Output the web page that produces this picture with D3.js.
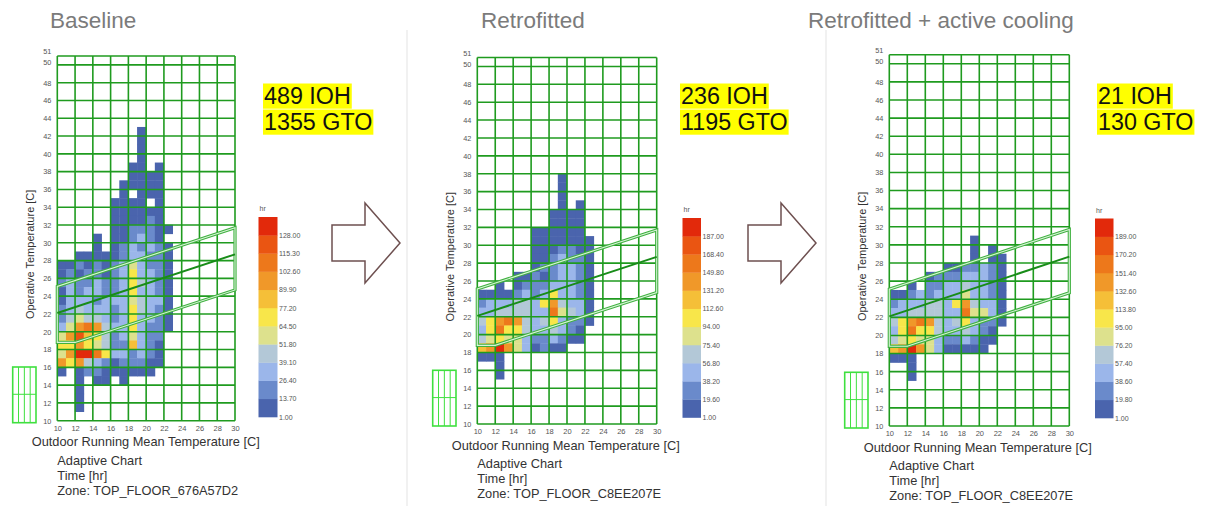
<!DOCTYPE html>
<html><head><meta charset="utf-8">
<script src="https://cdn.jsdelivr.net/npm/d3@7"></script>
<style>
body{margin:0;background:#fff;}
svg{display:block;font-family:"Liberation Sans",Arial,Helvetica,sans-serif;}
</style>
</head><body>
<svg id="chart" width="1205" height="506"></svg>
<script>
// ---------------- DATA ----------------
const titles = ["Baseline", "Retrofitted", "Retrofitted + active cooling"];
const zoneNames = ["Zone: TOP_FLOOR_676A57D2", "Zone: TOP_FLOOR_C8EE207E", "Zone: TOP_FLOOR_C8EE207E"];
const iohValues = [489, 236, 21];
const gtoValues = [1355, 1195, 130];
const xTicks = [10, 12, 14, 16, 18, 20, 22, 24, 26, 28, 30];
const yTicks = [10, 12, 14, 16, 18, 20, 22, 24, 26, 28, 30, 32, 34, 36, 38, 40, 42, 44, 46, 48, 50, 51];
const xAxisTitle = "Outdoor Running Mean Temperature [C]";
const yAxisTitle = "Operative Temperature [C]";
const infoLines = ["Adaptive Chart", "Time [hr]"];

// legend break values (hr), bottom to top
const legendBaseline = [1.00, 13.70, 26.40, 39.10, 51.80, 64.50, 77.20, 89.90, 102.60, 115.30, 128.00];
const legendRetrofit = [1.00, 19.60, 38.20, 56.80, 75.40, 94.00, 112.60, 131.20, 149.80, 168.40, 187.00];
const legendCooling  = [1.00, 19.80, 38.60, 57.40, 76.20, 95.00, 113.80, 132.60, 151.40, 170.20, 189.00];
const binColors = ["#4a64ad", "#6a8acb", "#9bb6ea", "#b3c8d7", "#dde18d", "#f8e64a",
                   "#f5bf38", "#f09829", "#ed781b", "#ea5512", "#e2290b"];

// Hour bins: one string per 1°C row of operative temperature,
// one character per 1°C of outdoor running mean temperature starting at 10°C.
// '.' = no hours, 0..9/A = legend class (A = top class).
const cellStartX = 10;
const baselineTopRow = 42;
const baselineCells = [
  ".........0...", // 42
  ".........0...", // 41
  ".........0...", // 40
  ".........0...", // 39
  "........00.0.", // 38
  "........0000.", // 37
  ".......00000.", // 36
  ".......0.000.", // 35
  "......0000.0.", // 34
  "......000000.", // 33
  "......000010.", // 32
  "......0011100", // 31
  "....0.001210.", // 30
  "....0.0121210", // 29
  "..00000122110", // 28
  "0010101242110", // 27
  "0101101252210", // 26
  "1211211253210", // 25
  "0212211252210", // 24
  "0222122243220", // 23
  "1232221253210", // 22
  "1343321252210", // 21
  "2478732252110", // 20
  "479653124211.", // 19
  "557543116210.", // 18
  "47AA85221210.", // 17
  "757321011100.", // 16
  "0.011000000..", // 15
  "..0.00.0.....", // 14
  "..0..........", // 13
  "..0..........", // 12
  "..0.........."  // 11
];
const retrofitTopRow = 37;
const retrofitCells = [
  ".........0...", // 37
  ".........0...", // 36
  ".........0...", // 35
  ".........0.0.", // 34
  "........0000.", // 33
  "........0000.", // 32
  "......000000.", // 31
  "......0000000", // 30
  "......0001100", // 29
  "......0012110", // 28
  "......0112210", // 27
  "....001012210", // 26
  "..0.011122210", // 25
  "0000121252210", // 24
  "1222332573220", // 23
  "2233332284320", // 22
  "3578732352110", // 21
  "258553223210.", // 20
  "345442112100.", // 19
  "67A7420100...", // 18
  "000..........", // 17
  "..0..........", // 16
  "..0.........."  // 15
];
const coolingTopRow = 30;
const coolingCells = [
  ".........0...", // 30
  ".........0.0.", // 29
  ".........0.00", // 28
  "......0011210", // 27
  "....011122210", // 26
  "..0.112232210", // 25
  "0012122242210", // 24
  "1222332573220", // 23
  "2233332284420", // 22
  "3578732352110", // 21
  "258553223210.", // 20
  "345442112100.", // 19
  "67A74200000..", // 18
  "000..........", // 17
  "..0..........", // 16
  "..0.........."  // 15
];

// adaptive comfort limits (EN 15251 style)
const comfortLine = [[10, 22.1], [30, 28.7]];
const bandLower = [[10, 18.8], [12, 18.8], [30, 24.7]];
const bandUpper = [[30, 31.7], [10, 25.1]];

// ---------------- LAYOUT ----------------
const panels = [
  { cells: baselineCells, top: baselineTopRow, legend: legendBaseline,
    plot: { l: 57.3, r: 235.0, b: 420.7, t: 56.0 }, titleX: 50, boxX: 264,
    leg: { x: 258.5, w: 19, t: 217, b: 417 } },
  { cells: retrofitCells, top: retrofitTopRow, legend: legendRetrofit,
    plot: { l: 477.3, r: 656.7, b: 424.0, t: 57.5 }, titleX: 481, boxX: 681,
    leg: { x: 682.5, w: 18.5, t: 218, b: 417.5 } },
  { cells: coolingCells, top: coolingTopRow, legend: legendCooling,
    plot: { l: 889.3, r: 1069.3, b: 426.0, t: 54.7 }, titleX: 808, boxX: 1098,
    leg: { x: 1095, w: 18.5, t: 218.5, b: 418 } }
];
const arrowsX = [332, 748];

const svg = d3.select("#chart");
const gridColor = "#1f9b1f";

// faint panel frames
[407, 826].forEach(x => svg.append("line").attr("x1", x).attr("x2", x).attr("y1", 30).attr("y2", 506)
  .attr("stroke", "#ececec").attr("stroke-width", 1.5));

panels.forEach((p, k) => {
  const g = svg.append("g");
  const xs = d3.scaleLinear().domain([10, 30]).range([p.plot.l, p.plot.r]);
  const ys = d3.scaleLinear().domain([10, 51]).range([p.plot.b, p.plot.t]);
  const step = p.legend[1] - p.legend[0];
  const color = d3.scaleThreshold().domain(p.legend.slice(1)).range(binColors);

  // title
  svg.append("text").attr("x", p.titleX).attr("y", 28).attr("font-size", 22.5)
    .attr("fill", "#7b7b7b").text(titles[k]);

  // cells
  const cells = [];
  p.cells.forEach((row, i) => {
    const t = p.top - i;
    row.split("").forEach((ch, j) => {
      if (ch === ".") return;
      const lvl = parseInt(ch, 16);
      cells.push({ x: cellStartX + j, t: t, hours: p.legend[lvl] + step / 2 });
    });
  });
  g.append("g").selectAll("rect").data(cells).join("rect")
    .attr("x", d => xs(d.x) - 0.2)
    .attr("y", d => ys(d.t + 1) - 0.2)
    .attr("width", d => xs(d.x + 1) - xs(d.x) + 0.4)
    .attr("height", d => ys(d.t) - ys(d.t + 1) + 0.4)
    .attr("fill", d => color(d.hours));

  // grid
  g.append("g").selectAll("line").data(xTicks).join("line")
    .attr("x1", d => xs(d)).attr("x2", d => xs(d))
    .attr("y1", ys(10)).attr("y2", ys(51))
    .attr("stroke", gridColor).attr("stroke-width", 1.6);
  g.append("g").selectAll("line").data(yTicks).join("line")
    .attr("x1", xs(10)).attr("x2", xs(30))
    .attr("y1", d => ys(d)).attr("y2", d => ys(d))
    .attr("stroke", gridColor).attr("stroke-width", 1.6);

  // comfort band (double line polygon)
  const band = d3.line().x(d => xs(d[0])).y(d => ys(d[1]));
  const poly = band(bandLower.concat(bandUpper)) + "Z";
  g.append("path").attr("d", poly).attr("fill", "none").attr("stroke", "#3fb13f").attr("stroke-width", 3.2);
  g.append("path").attr("d", poly).attr("fill", "none").attr("stroke", "#d9f3d9").attr("stroke-width", 1.1);
  g.append("path").attr("d", band(comfortLine)).attr("fill", "none").attr("stroke", "#188c18").attr("stroke-width", 2);

  // axes tick labels
  const ya = g.append("g").attr("transform", `translate(${p.plot.l - 4},0)`)
    .call(d3.axisLeft(ys).tickValues(yTicks).tickSize(0).tickPadding(2).tickFormat(d3.format("d")));
  ya.select(".domain").remove();
  ya.selectAll("text").attr("font-size", 7.3).attr("fill", "#555").attr("font-family", "inherit")
    .attr("dy", d => d === 51 ? "-0.3em" : d === 50 ? "0.0em" : "0.32em");
  const xa = g.append("g").attr("transform", `translate(0,${p.plot.b + 3})`)
    .call(d3.axisBottom(xs).tickValues(xTicks).tickSize(0).tickPadding(2).tickFormat(d3.format("d")));
  xa.select(".domain").remove();
  xa.selectAll("text").attr("font-size", 7.5).attr("fill", "#555").attr("font-family", "inherit");

  // axis titles
  svg.append("text").attr("x", p.plot.l - 25.6).attr("y", p.plot.b + 25.5)
    .attr("font-size", 12.8).attr("fill", "#333").text(xAxisTitle);
  const cy = (p.plot.t + p.plot.b) / 2 + 16;
  svg.append("text").attr("transform", `translate(${p.plot.l - 23},${cy}) rotate(-90)`)
    .attr("text-anchor", "middle").attr("font-size", 11).attr("fill", "#333").text(yAxisTitle);

  // info text
  infoLines.concat([zoneNames[k]]).forEach((s, i) => {
    svg.append("text").attr("x", p.plot.l).attr("y", p.plot.b + 43.8 + i * 15)
      .attr("font-size", 12.8).attr("fill", "#333").text(s);
  });

  // small icon
  const ix = p.plot.l - 44.6, iy = p.plot.b - 53.7, iw = 23.3, ih = 55.7;
  const ic = svg.append("g").attr("stroke", "#3fe03f").attr("stroke-width", 1.6).attr("fill", "none");
  ic.append("rect").attr("x", ix).attr("y", iy).attr("width", iw).attr("height", ih);
  [0.25, 0.5, 0.75].forEach(f => ic.append("line").attr("x1", ix + iw * f).attr("x2", ix + iw * f)
    .attr("y1", iy).attr("y2", iy + ih).attr("stroke-width", 1));
  ic.append("line").attr("x1", ix).attr("x2", ix + iw).attr("y1", iy + ih * 0.49).attr("y2", iy + ih * 0.49)
    .attr("stroke-width", 1);

  // IOH / GTO highlight boxes
  [`${iohValues[k]} IOH`, `${gtoValues[k]} GTO`].forEach((s, i) => {
    const base = 104 + i * 26;
    const bg = svg.append("rect").attr("fill", "#ffff00");
    const tx = svg.append("text").attr("x", p.boxX).attr("y", base).attr("font-size", 23.3)
      .attr("fill", "#111").text(s);
    const bb = tx.node().getBBox();
    bg.attr("x", bb.x - 1).attr("y", base - 20.5).attr("width", bb.width + 2).attr("height", 25.2);
  });

  // legend
  const ls = d3.scaleLinear().domain([0, p.legend.length]).range([p.leg.b, p.leg.t]);
  const lg = svg.append("g");
  lg.selectAll("rect").data(p.legend).join("rect")
    .attr("x", p.leg.x).attr("width", p.leg.w)
    .attr("y", (d, i) => ls(i + 1)).attr("height", (d, i) => ls(i) - ls(i + 1) + 0.3)
    .attr("fill", d => color(d + step / 2));
  lg.selectAll("text.lab").data(p.legend).join("text").attr("class", "lab")
    .attr("x", p.leg.x + p.leg.w + 1.5).attr("y", (d, i) => ls(i) + 2.6)
    .attr("font-size", 7).attr("fill", "#555").text(d => d.toFixed(2));
  lg.append("text").attr("x", p.leg.x + 1).attr("y", p.leg.t - 6).attr("font-size", 7)
    .attr("fill", "#555").text("hr");
});

// arrows between panels
arrowsX.forEach(x0 => {
  const pts = [[x0, 225], [x0 + 33, 225], [x0 + 33, 203], [x0 + 68, 243], [x0 + 33, 283], [x0 + 33, 261], [x0, 261]];
  svg.append("path").attr("d", d3.line()(pts) + "Z").attr("fill", "#fff")
    .attr("stroke", "#6e5050").attr("stroke-width", 1.5).attr("stroke-linejoin", "miter");
});
</script>
</body></html>
